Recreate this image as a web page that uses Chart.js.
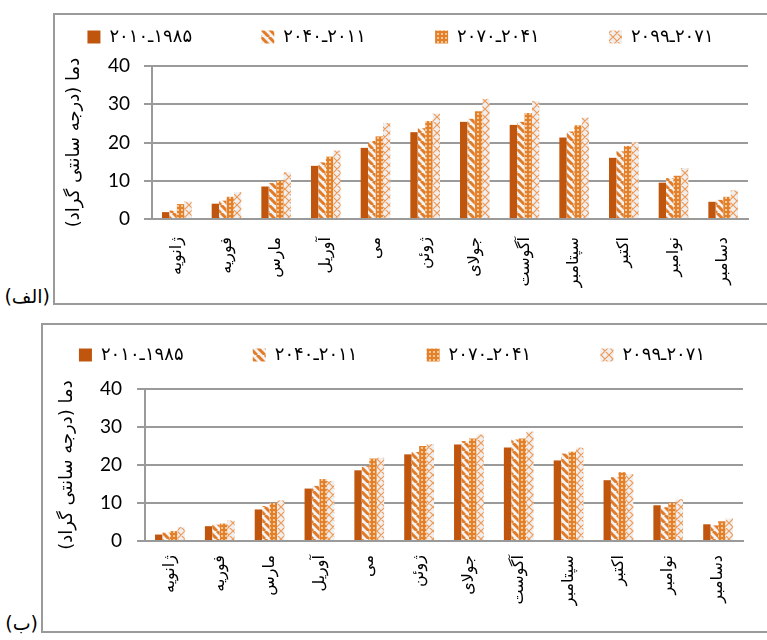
<!DOCTYPE html>
<html lang="fa">
<head>
<meta charset="utf-8">
<title>دما</title>
<script src="https://cdn.jsdelivr.net/npm/chart.js@4.4.1/dist/chart.umd.min.js"></script>
<style>
  html, body { margin: 0; padding: 0; background: #fff; width: 767px; height: 640px; overflow: hidden; }
  .frame { position: absolute; border: 2px solid #9a9a9a; box-sizing: border-box; }
  canvas { position: absolute; }
  .tag { position: absolute; font-family: "DejaVu Sans", sans-serif; font-size: 19px; direction: rtl; color: #000; }
</style>
</head>
<body>
<div class="frame" style="left:53px;top:13px;width:730px;height:292px"></div>
<canvas id="chartA" width="714" height="291" style="left:53px;top:13px"></canvas>
<div class="tag" style="right:717px;top:285px">(الف)</div>

<div class="frame" style="left:41px;top:323px;width:740px;height:310px"></div>
<canvas id="chartB" width="726" height="309" style="left:41px;top:323px"></canvas>
<div class="tag" style="right:729px;top:612px">(ب)</div>

<script>
// months (x categories)
const months = ['ژانویه', 'فوریه', 'مارس', 'آوریل', 'می', 'ژوئن', 'جولای', 'آگوست', 'سپتامبر', 'اکتبر', 'نوامبر', 'دسامبر'];
// periods (legend)
const periods = [
  '۲۰۱۰\u200Eـ\u200E۱۹۸۵',
  '۲۰۴۰\u200Eـ\u200E۲۰۱۱',
  '۲۰۷۰\u200Eـ\u200E۲۰۴۱',
  '۲۰۹۹\u200Eـ\u200E۲۰۷۱'
];
const yTitle = 'دما (درجه سانتی گراد)\u200F';
const yTicks = [0, 10, 20, 30, 40];

// chart (الف)
const alef1 = [1.8, 4.0, 8.5, 13.9, 18.6, 22.7, 25.4, 24.6, 21.3, 16.0, 9.5, 4.5];
const alef2 = [2.2, 4.8, 9.4, 14.8, 20.4, 23.7, 26.2, 25.4, 22.9, 17.7, 10.7, 5.0];
const alef3 = [3.9, 5.8, 10.0, 16.3, 21.6, 25.6, 28.2, 27.7, 24.5, 19.1, 11.3, 5.8];
const alef4 = [4.6, 7.0, 12.2, 17.9, 25.1, 27.6, 31.4, 30.8, 26.5, 20.1, 13.3, 7.5];

// chart (ب)
const be1 = [1.7, 3.9, 8.3, 13.8, 18.6, 22.8, 25.4, 24.6, 21.2, 16.0, 9.4, 4.4];
const be2 = [2.2, 4.3, 9.2, 14.5, 19.7, 23.4, 26.3, 26.7, 23.0, 16.8, 8.9, 4.1];
const be3 = [2.6, 4.6, 10.0, 16.3, 21.7, 25.0, 27.0, 27.0, 23.5, 18.1, 10.1, 5.2];
const be4 = [3.7, 5.4, 10.7, 15.8, 21.9, 25.5, 28.0, 28.8, 24.6, 17.6, 11.0, 5.9];

// bar fills: solid, stripes, dots, lattice
function tile(w, h, paint) {
  const c = document.createElement('canvas');
  c.width = w; c.height = h;
  const g = c.getContext('2d');
  paint(g);
  return g.createPattern(c, 'repeat');
}
const fills = [
  '#C0560E',
  tile(8, 8, g => {
    g.fillStyle = '#f3f3f3'; g.fillRect(0, 0, 8, 8);
    g.strokeStyle = '#E27B27'; g.lineWidth = 3;
    g.beginPath();
    for (let k = -8; k <= 8; k += 8) { g.moveTo(k, 0); g.lineTo(k + 8, 8); }
    g.stroke();
  }),
  tile(4, 4, g => {
    g.fillStyle = '#E2802C'; g.fillRect(0, 0, 4, 4);
    g.fillStyle = '#F8C796'; g.fillRect(0, 0, 2, 2);
  }),
  tile(8, 8, g => {
    g.fillStyle = '#EFEFEF'; g.fillRect(0, 0, 8, 8);
    g.strokeStyle = '#EE9A58'; g.lineWidth = 1.2;
    g.beginPath();
    for (let k = -8; k <= 8; k += 8) {
      g.moveTo(k, 8); g.lineTo(k + 8, 0);
      g.moveTo(k, 0); g.lineTo(k + 8, 8);
    }
    g.stroke();
  })
];

// pad legend texts so the items sit as far apart as in the original
const legendTextWidth = 138;
function legendLabels(chart) {
  const items = Chart.defaults.plugins.legend.labels.generateLabels(chart);
  const ctx = chart.ctx;
  ctx.save();
  ctx.font = '18px "DejaVu Sans"';
  items.forEach((it, i) => {
    if (i < items.length - 1) {
      let t = it.text;
      while (ctx.measureText(t).width < legendTextWidth) t += '\u00A0';
      it.text = t;
    }
  });
  ctx.restore();
  return items;
}

// keep the legend box at a fixed height so the plot top lands where it should
const fixedLegend = {
  id: 'fixedLegend',
  beforeUpdate(chart, args, opts) {
    const lg = chart.legend;
    if (!lg || lg._fixedFit) return;
    const fit = lg.fit;
    lg.fit = function () { fit.call(this); this.height = opts.height; };
    lg._fixedFit = true;
  }
};

function makeChart(id, series, geo) {
  return new Chart(document.getElementById(id), {
    type: 'bar',
    data: {
      labels: months,
      datasets: series.map((vals, i) => ({
        label: periods[i],
        data: vals,
        backgroundColor: fills[i],
        borderWidth: 0,
        categoryPercentage: 0.6,
        barPercentage: 0.98
      }))
    },
    options: {
      responsive: false,
      animation: false,
      layout: { padding: { top: geo.padTop, right: geo.padRight, left: 0, bottom: 0 } },
      plugins: {
        tooltip: { enabled: false },
        fixedLegend: { height: geo.legendH },
        legend: {
          position: 'top',
          labels: {
            boxWidth: 13, boxHeight: 13, padding: 12, color: '#000',
            font: { family: 'DejaVu Sans', size: 18 },
            generateLabels: legendLabels
          }
        }
      },
      scales: {
        x: {
          grid: { display: false, drawTicks: false },
          border: { color: '#9a9a9a', width: 2 },
          ticks: {
            autoSkip: false, minRotation: 90, maxRotation: 90, padding: geo.xPad,
            color: '#000', font: { family: 'DejaVu Sans', size: 16 }
          },
          afterFit: s => { s.height = geo.xH; }
        },
        y: {
          min: yTicks[0], max: yTicks[yTicks.length - 1],
          afterBuildTicks: s => { s.ticks = yTicks.map(v => ({ value: v })); },
          ticks: { padding: geo.yPad, color: '#000', font: { family: 'Lato', size: 19 } },
          grid: { color: '#9a9a9a', lineWidth: 2, tickLength: 8 },
          border: { color: '#9a9a9a', width: 2 },
          title: {
            display: true, text: yTitle, color: '#000',
            font: { family: 'DejaVu Sans', size: 18 },
            padding: { top: geo.titlePad, bottom: 0 }
          },
          afterFit: s => { s.width = geo.yW; }
        }
      }
    },
    plugins: [fixedLegend]
  });
}

makeChart('chartA', [alef1, alef2, alef3, alef4],
  { padTop: 3, legendH: 50, padRight: 19, yW: 99, xH: 85, xPad: 18, yPad: 14, titlePad: 11 });
makeChart('chartB', [be1, be2, be3, be4],
  { padTop: 11, legendH: 55, padRight: 24, yW: 104, xH: 91, xPad: 14, yPad: 15, titlePad: 16 });
</script>
</body>
</html>
